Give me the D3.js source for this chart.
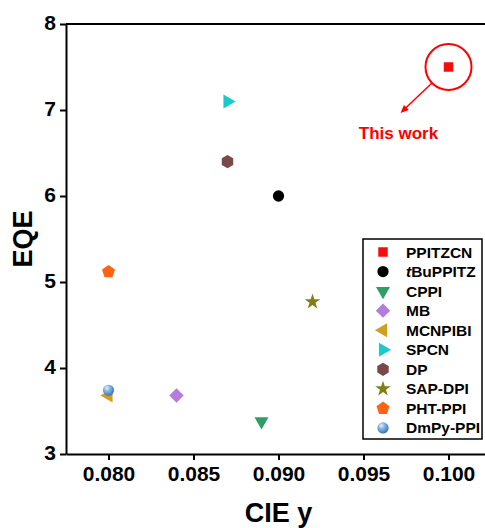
<!DOCTYPE html>
<html>
<head>
<meta charset="utf-8">
<script src="https://cdn.jsdelivr.net/npm/d3@7"></script>
<style>
  body { margin: 0; background: #fff; }
  text { font-family: "Liberation Sans", Arial, sans-serif; font-weight: bold; }
</style>
</head>
<body>
<div id="chart"></div>
<script>

// data
const names = ["PPITZCN", "tBuPPITZ", "CPPI", "MB", "MCNPIBI", "SPCN", "DP", "SAP-DPI", "PHT-PPI", "DmPy-PPI"]
const cieY = [0.100, 0.090, 0.089, 0.084, 0.080, 0.087, 0.087, 0.092, 0.080, 0.080]
const eqe = [7.5, 6.0, 3.38, 3.68, 3.68, 7.1, 6.4, 4.77, 5.12, 3.74]
const xTicks = [0.080, 0.085, 0.090, 0.095, 0.100]
const yTicks = [3, 4, 5, 6, 7, 8]

// marker look per series
const markerStyle = {
    "PPITZCN":  {shape: "square",   color: "#f40d0d"},
    "tBuPPITZ": {shape: "circle",   color: "#000000"},
    "CPPI":     {shape: "triDown",  color: "#2e9e62"},
    "MB":       {shape: "diamond",  color: "#b47ddc"},
    "MCNPIBI":  {shape: "triLeft",  color: "#cfa01e"},
    "SPCN":     {shape: "triRight", color: "#19caca"},
    "DP":       {shape: "hexagon",  color: "#7a4848"},
    "SAP-DPI":  {shape: "star",     color: "#808012"},
    "PHT-PPI":  {shape: "pentagon", color: "#ff6313"},
    "DmPy-PPI": {shape: "sphere",   color: "url(#sphere)"}
}

const W = 485, H = 528
const margin = ({top: 24, right: -6, bottom: 74, left: 66})

const svg = d3.select("#chart").append("svg")
    .attr("width", W)
    .attr("height", H)

const defs = svg.append("defs")
const grad = defs.append("radialGradient")
    .attr("id", "sphere")
    .attr("cx", "40%").attr("cy", "35%").attr("r", "65%")
    .attr("fx", "35%").attr("fy", "28%")
grad.append("stop").attr("offset", "0%").attr("stop-color", "#e4f1fc")
grad.append("stop").attr("offset", "45%").attr("stop-color", "#7fb2e3")
grad.append("stop").attr("offset", "100%").attr("stop-color", "#3b74b5")

const xScale = d3.scaleLinear()
    .domain([0.0775, 0.1025])
    .range([margin.left, W - margin.right])

const yScale = d3.scaleLinear()
    .domain([3, 8])
    .range([H - margin.bottom, margin.top])

// frame lines (top + right)
svg.append("line")
    .attr("x1", xScale.range()[0]).attr("x2", xScale.range()[1])
    .attr("y1", yScale(8)).attr("y2", yScale(8))
    .attr("stroke", "#000").attr("stroke-width", 2)
svg.append("line")
    .attr("x1", xScale.range()[1]).attr("x2", xScale.range()[1])
    .attr("y1", yScale(8)).attr("y2", yScale(3))
    .attr("stroke", "#000").attr("stroke-width", 2)

const xAxis = d3.axisBottom(xScale)
    .tickValues(xTicks)
    .tickFormat(d3.format(".3f"))
    .tickSize(6)
    .tickSizeOuter(0)
    .tickPadding(6)

svg.append("g")
    .attr("class", "axis x-axis")
    .attr("transform", `translate(0, ${yScale(3)})`)
    .call(xAxis)

const yAxis = d3.axisLeft(yScale)
    .tickValues(yTicks)
    .tickFormat(d3.format("d"))
    .tickSize(6)
    .tickSizeOuter(0)
    .tickPadding(4)

svg.append("g")
    .attr("class", "axis y-axis")
    .attr("transform", `translate(${xScale.range()[0]}, 0)`)
    .call(yAxis)

svg.selectAll(".axis path.domain").attr("stroke-width", 2)
svg.selectAll(".axis .tick line").attr("stroke-width", 2)
svg.selectAll(".axis text")
    .attr("font-size", 21)
    .attr("font-family", null)
    .attr("fill", "#000")
svg.selectAll(".y-axis text").attr("dy", "0.27em")

// axis titles
svg.append("text")
    .attr("x", (xScale.range()[0] + xScale.range()[1]) / 2)
    .attr("y", 522)
    .attr("text-anchor", "middle")
    .attr("font-size", 27)
    .text("CIE y")

svg.append("text")
    .attr("transform", `translate(32, ${(yScale(3) + yScale(8)) / 2}) rotate(-90)`)
    .attr("text-anchor", "middle")
    .attr("font-size", 27)
    .text("EQE")

// marker path builder
function polygon(n, r, start){
    const pts = d3.range(n).map(i => {
        const a = start + i * 2 * Math.PI / n
        return [r * Math.cos(a), r * Math.sin(a)]
    })
    return "M" + pts.map(p => p.join(",")).join("L") + "Z"
}

function markerPath(shape){
    switch (shape) {
        case "square": return d3.symbol(d3.symbolSquare, 90)()
        case "circle": return d3.symbol(d3.symbolCircle, 100)()
        case "sphere": return d3.symbol(d3.symbolCircle, 100)()
        case "triDown":
        case "triLeft":
        case "triRight": return d3.symbol(d3.symbolTriangle, 85)()
        case "diamond": return polygon(4, 7.2, 0)
        case "hexagon": return polygon(6, 6.6, -Math.PI / 2)
        case "pentagon": return polygon(5, 6.8, -Math.PI / 2)
        case "star": return d3.symbol(d3.symbolStar, 75)()
    }
}

function markerRotate(shape){
    if (shape == "triDown") return 180
    if (shape == "triLeft") return -90
    if (shape == "triRight") return 90
    return 0
}

const points = names.map((n, i) => ({name: n, x: cieY[i], y: eqe[i], style: markerStyle[n]}))

svg.selectAll("path.pt")
    .data(points)
    .enter()
    .append("path")
    .attr("class", "pt")
    .attr("d", d => markerPath(d.style.shape))
    .attr("fill", d => d.style.color)
    .attr("transform", d => `translate(${xScale(d.x)}, ${yScale(d.y)}) rotate(${markerRotate(d.style.shape)})`)

// "This work" callout on the PPITZCN point
const hx = xScale(cieY[0]), hy = yScale(eqe[0])
svg.append("circle")
    .attr("cx", hx).attr("cy", hy).attr("r", 23)
    .attr("fill", "none")
    .attr("stroke", "#f00")
    .attr("stroke-width", 2)

const a0 = [hx - 16.5, hy + 16], a1 = [hx - 48, hy + 46]
const ang = Math.atan2(a1[1] - a0[1], a1[0] - a0[0])
svg.append("line")
    .attr("x1", a0[0]).attr("y1", a0[1])
    .attr("x2", a1[0] - 5 * Math.cos(ang)).attr("y2", a1[1] - 5 * Math.sin(ang))
    .attr("stroke", "#f00")
    .attr("stroke-width", 1.5)
svg.append("path")
    .attr("d", "M0,0L-8,-3.5L-8,3.5Z")
    .attr("fill", "#f00")
    .attr("transform", `translate(${a1[0]}, ${a1[1]}) rotate(${ang * 180 / Math.PI})`)

svg.append("text")
    .attr("x", hx - 50)
    .attr("y", hy + 72)
    .attr("text-anchor", "middle")
    .attr("font-size", 17)
    .attr("fill", "#f00")
    .text("This work")

// legend
const legend = svg.append("g").attr("transform", "translate(363, 239)")
legend.append("rect")
    .attr("width", 119).attr("height", 200)
    .attr("fill", "#fff")
    .attr("stroke", "#000")
    .attr("stroke-width", 1.5)

const rows = legend.selectAll("g.row")
    .data(points)
    .enter()
    .append("g")
    .attr("class", "row")
    .attr("transform", (d, i) => `translate(20, ${13 + i * 19.55})`)

rows.append("path")
    .attr("d", d => markerPath(d.style.shape))
    .attr("fill", d => d.style.color)
    .attr("transform", d => `rotate(${markerRotate(d.style.shape)})`)

const labels = rows.append("text")
    .attr("x", 23)
    .attr("y", 5.5)
    .attr("font-size", 15.5)
labels.each(function(d){
    const t = d3.select(this)
    if (d.name == "tBuPPITZ") {
        t.append("tspan").attr("font-style", "italic").text("t")
        t.append("tspan").text("BuPPITZ")
    } else {
        t.text(d.name)
    }
})

</script>
</body>
</html>
